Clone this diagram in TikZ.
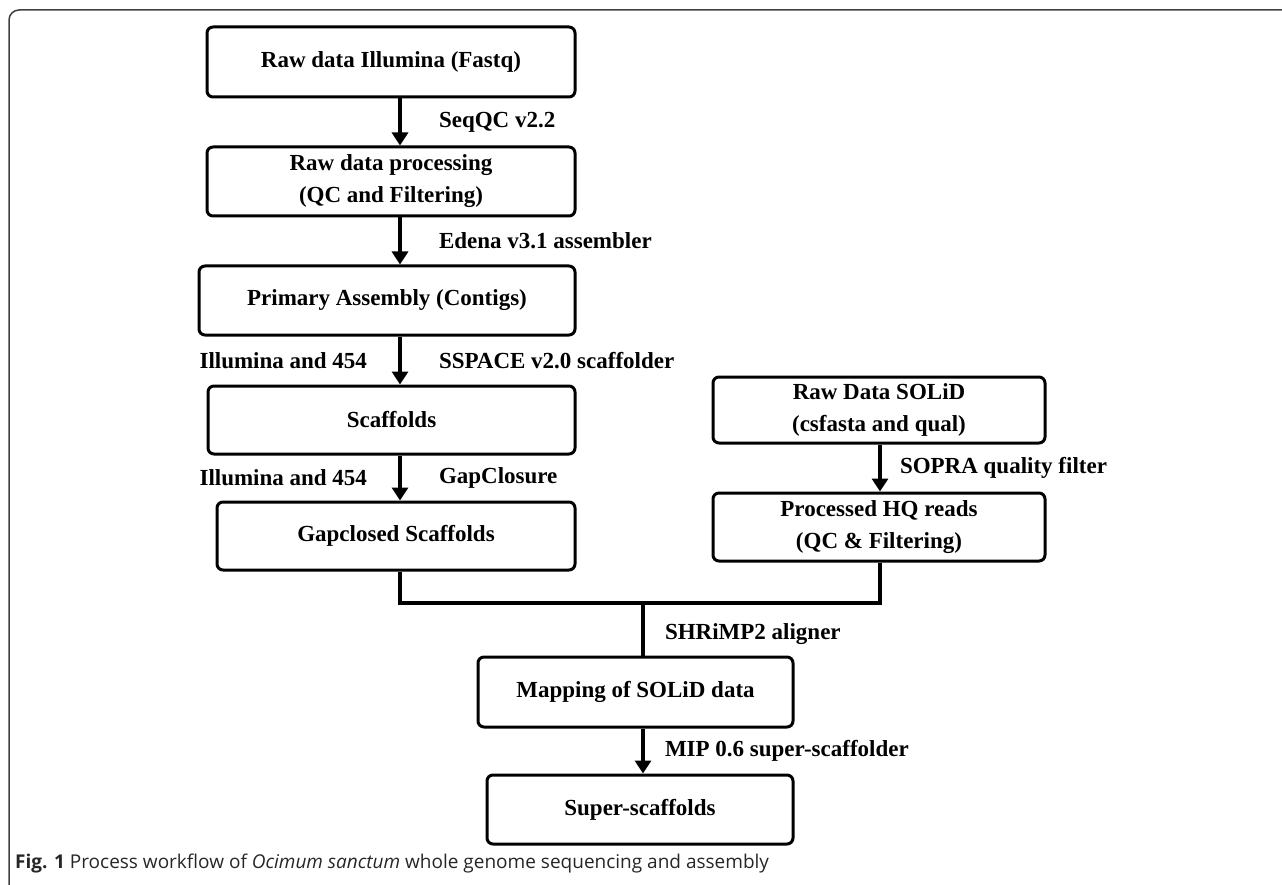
\documentclass[tikz,border=0pt]{standalone}
\usepackage{fontspec}
\setmainfont{Liberation Serif}
\newfontfamily\capfont{Open Sans}
\usetikzlibrary{arrows.meta,positioning}

\tikzset{
  box/.style={draw, line width=3pt, rounded corners=6pt, align=center, inner sep=0pt,
    font=\bfseries\fontsize{23}{32}\selectfont},
  lab/.style={inner sep=0pt, font=\bfseries\fontsize{23}{28}\selectfont},
  arr/.style={line width=4pt, -{Triangle[length=13pt,width=16pt]}},
  conn/.style={line width=4pt},
}

\begin{document}
\begin{tikzpicture}[x=1pt,y=-1pt]
\useasboundingbox (0,0) rectangle (1282,885);
\draw [black!75, line width=1.5pt, rounded corners=10pt] (1282,10) -- (9,10) -- (9,885);

\coordinate (ax) at (400,0);
\coordinate (bx) at (880,0);
\coordinate (mj) at (643,603);

% illumina column
\node [box, minimum width=368pt, minimum height=70pt] (raw) at (391,62) {Raw data Illumina (Fastq)};
\node [box, minimum width=368pt, minimum height=69pt] (proc) [below=47pt of raw.south east, anchor=north east] {Raw data processing\\(QC and Filtering)};
\node [box, minimum width=376pt, minimum height=69pt] (prim) [below=47pt of proc.south east, anchor=north east] {Primary Assembly (Contigs)};
\node [box, minimum width=367pt, minimum height=68pt] (scaf) [below=48pt of prim.south east, anchor=north east] {Scaffolds};
\node [box, minimum width=358pt, minimum height=68pt] (gap) [below=45pt of scaf.south east, anchor=north east] {Gapclosed Scaffolds};

% solid column
\node [box, minimum width=332pt, minimum height=66pt] (solid) at (879,410) {Raw Data SOLiD\\(csfasta and qual)};
\node [box, minimum width=332pt, minimum height=68pt] (hq) [below=47pt of solid.south east, anchor=north east] {Processed HQ reads\\(QC \& Filtering)};

% merged
\node [box, minimum width=315pt, minimum height=70pt] (map) at (635.5,692) {Mapping of SOLiD data};
\node [box, minimum width=306pt, minimum height=69pt] (super) [below=45pt of map.south east, anchor=north east] {Super-scaffolds};

\draw [arr] (raw.south -| ax) -- node [lab, right=37pt] {SeqQC v2.2} (proc.north -| ax);
\draw [arr] (proc.south -| ax) -- node [lab, right=37pt] {Edena v3.1 assembler} (prim.north -| ax);
\draw [arr] (prim.south -| ax) -- node [lab, right=37pt] {SSPACE v2.0 scaffolder} node [lab, left=31pt] {Illumina and 454} (scaf.north -| ax);
\draw [arr] (scaf.south -| ax) -- node [lab, right=37pt] {GapClosure} node [lab, left=31pt] {Illumina and 454} (gap.north -| ax);
\draw [arr] (solid.south -| bx) -- node [lab, right=18pt] {SOPRA quality filter} (hq.north -| bx);

\draw [conn] (gap.south -| ax) |- (mj) -| (hq.south -| bx);
\draw [conn] (mj) -- node [lab, right=20pt, yshift=-5pt] {SHRiMP2 aligner} (map.north -| mj);
\draw [arr] (map.south -| mj) -- node [lab, right=20pt] {MIP 0.6 super-scaffolder} (super.north -| mj);

\node [anchor=base west, inner sep=0pt, text=black!85, font=\capfont\fontsize{19}{23}\selectfont] (cap) at (15,868) {\textbf{Fig. 1} Process workflow of \textit{Ocimum sanctum} whole genome sequencing and assembly};
\end{tikzpicture}
\end{document}
